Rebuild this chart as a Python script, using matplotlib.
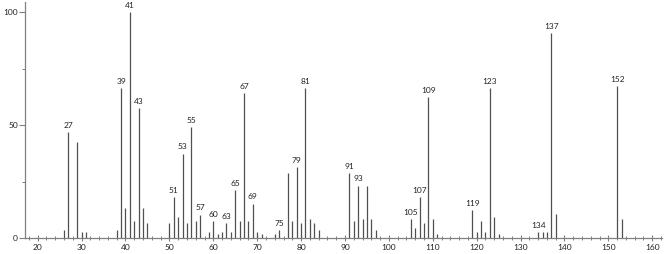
import matplotlib
matplotlib.use("Agg")
import matplotlib.pyplot as plt
from matplotlib.ticker import MultipleLocator

# m/z and relative intensity
mz = [26, 27, 29, 30, 31, 38, 39, 40, 41, 42, 43, 44, 45,
      50, 51, 52, 53, 54, 55, 56, 57, 59, 60, 61, 62, 63, 64, 65, 66, 67, 68, 69, 70, 71,
      74, 75, 77, 78, 79, 80, 81, 82, 83, 84,
      91, 92, 93, 94, 95, 96, 97,
      105, 106, 107, 108, 109, 110, 111,
      119, 120, 121, 122, 123, 124, 125,
      134, 135, 136, 137, 138, 152, 153]
intensity = [3.5, 47, 42.4, 2.5, 2.5, 3.5, 66.4, 13.4, 100, 7.5, 57.5, 13.4, 6.5,
             6.5, 18, 9.3, 37.3, 6.5, 49.2, 7.5, 10.3, 2.5, 7.5, 1.6, 2.5, 6.5, 2.5, 21.3, 7.5, 64.2, 7.5, 15.2, 2.5, 1.6,
             1.6, 3.5, 28.7, 7.5, 31.3, 6.5, 66.4, 8.4, 6.5, 3.5,
             28.7, 7.5, 23.2, 8.4, 23.2, 8.4, 3.5,
             8.4, 4.4, 18.2, 6.5, 62.4, 8.4, 1.6,
             12.4, 2.5, 7.5, 2.5, 66.4, 9.3, 1.6,
             2.5, 2.5, 2.5, 90.8, 10.5, 67.4, 8.4]

# peaks that carry a mass label
labelled = [27, 39, 41, 43, 51, 53, 55, 57, 60, 63, 65, 67, 69, 75, 79, 81,
            91, 93, 105, 107, 109, 119, 123, 134, 137, 152]

fig = plt.figure(figsize=(6.66, 2.54), dpi=100)
ax = fig.add_axes([0.0375, 0.063, 0.957, 0.929])

ax.vlines(mz, 0, intensity, colors="#505050", linewidth=0.9)

for m, h in zip(mz, intensity):
    if m in labelled:
        ax.text(m, h + 1.5, str(m), ha="center", va="bottom", fontsize=6,
                color="#222222", family="Lato", clip_on=False)

ax.set_xlim(17.1, 162.3)
ax.set_ylim(0, 104.6)

for s in ["top", "right"]:
    ax.spines[s].set_visible(False)
for s in ["left", "bottom"]:
    ax.spines[s].set_color("#808080")
    ax.spines[s].set_linewidth(0.9)

ax.xaxis.set_major_locator(MultipleLocator(10))
ax.xaxis.set_minor_locator(MultipleLocator(2))
ax.yaxis.set_major_locator(MultipleLocator(50))
ax.yaxis.set_minor_locator(MultipleLocator(25))
ax.tick_params(axis="x", which="major", direction="inout", length=5, width=0.8,
               color="#808080", labelsize=6, pad=2)
ax.tick_params(axis="x", which="minor", direction="inout", length=3, width=0.7, color="#808080")
ax.tick_params(axis="y", which="major", direction="out", length=4, width=0.8,
               color="#808080", labelsize=6, pad=1)
ax.tick_params(axis="y", which="minor", direction="out", length=2, width=0.7, color="#808080")
for lab in ax.get_xticklabels() + ax.get_yticklabels():
    lab.set_family("Lato")
    lab.set_color("#222222")

fig.savefig("out.png", dpi=100)
